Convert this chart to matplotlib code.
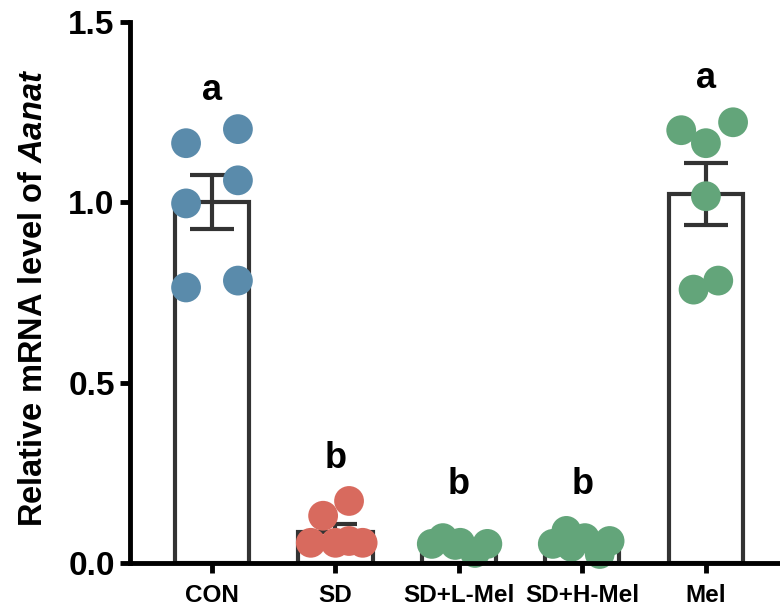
import numpy as np
import matplotlib.pyplot as plt

plt.rcParams['font.family'] = 'Liberation Sans'
plt.rcParams['font.weight'] = 'bold'
plt.rcParams['mathtext.fontset'] = 'custom'
plt.rcParams['mathtext.it'] = 'Liberation Sans:italic:bold'
plt.rcParams['mathtext.rm'] = 'Liberation Sans:bold'

# dados
grupos = ['CON', 'SD', 'SD+L-Mel', 'SD+H-Mel', 'Mel']
medias = [1.0, 0.086, 0.05, 0.056, 1.022]
erros = [0.075, 0.022, 0.008, 0.01, 0.086]
letras = ['a', 'b', 'b', 'b', 'a']
letras_y = [1.283, 0.264, 0.19, 0.19, 1.317]

pontos = [
    [1.164, 0.997, 0.764, 1.203, 1.061, 0.783],
    [0.172, 0.131, 0.056, 0.056, 0.061, 0.056],
    [0.053, 0.069, 0.056, 0.028, 0.053, 0.05],
    [0.089, 0.053, 0.069, 0.025, 0.061, 0.045],
    [1.2, 1.222, 1.164, 1.017, 0.758, 0.783],
]
desloc = [
    [-0.21, -0.21, -0.21, 0.21, 0.21, 0.21],
    [0.11, -0.10, -0.20, 0.0, 0.11, 0.22],
    [-0.22, -0.13, 0.01, 0.13, 0.23, -0.03],
    [-0.13, -0.24, 0.02, 0.14, 0.22, -0.09],
    [-0.2, 0.22, 0.0, 0.0, -0.1, 0.1],
]
cores = ['#5A8BAB', '#D86A5E', '#63A57A', '#63A57A', '#63A57A']

fig = plt.figure(figsize=(7.8, 6.07), dpi=100)
ax = fig.add_axes([130/780, 44/607, 650/780, 541/607])

x = np.arange(len(grupos))
ax.bar(x, medias, width=0.6, facecolor='white', edgecolor='#333333', linewidth=3, zorder=1)
ax.errorbar(x, medias, yerr=erros, fmt='none', ecolor='#333333', elinewidth=3,
            capsize=16, capthick=3, zorder=2)

for i in range(len(grupos)):
    xs = x[i] + np.array(desloc[i])
    ax.scatter(xs, pontos[i], s=460, color=cores[i], edgecolors='none', zorder=3, clip_on=False)
    ax.text(x[i], letras_y[i], letras[i], ha='center', va='baseline', fontsize=26, fontweight='bold')

ax.set_xlim(-0.664, 4.6)
ax.set_ylim(0, 1.5)
ax.set_yticks([0, 0.5, 1.0, 1.5])
ax.set_yticklabels(['0.0', '0.5', '1.0', '1.5'])
ax.set_xticks(x)
ax.set_xticklabels(grupos)

for s in ['top', 'right']:
    ax.spines[s].set_visible(False)
for s in ['left', 'bottom']:
    ax.spines[s].set_linewidth(3.5)
    ax.spines[s].set_zorder(4)

ax.tick_params(axis='y', labelsize=24, width=3.5, length=7, pad=4)
ax.tick_params(axis='x', labelsize=17.5, width=3.5, length=7, pad=8)
ax.set_ylabel(r'Relative mRNA level of $\mathit{Aanat}$', fontsize=23.5, fontweight='bold', labelpad=14)
ax.yaxis.label.set_y(0.49)

fig.savefig('out.png', dpi=100)
